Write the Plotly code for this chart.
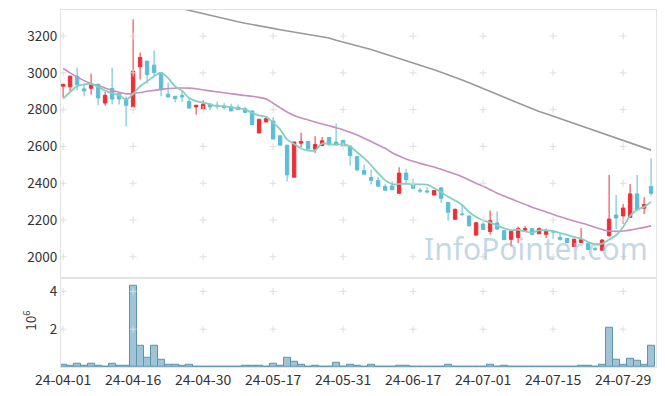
import pandas as pd
import plotly.graph_objects as go
from plotly.subplots import make_subplots

# ---- data ----
holidays = ["2024-04-10", "2024-05-01", "2024-05-06", "2024-05-15", "2024-06-06"]
dates = [d for d in pd.bdate_range("2024-04-01", "2024-08-02") if d.strftime("%Y-%m-%d") not in holidays]
labels = [d.strftime("%y-%m-%d") for d in dates]

opens = [2928, 2924, 2982, 2913, 2916, 2938, 2836, 2915, 2887, 2860,
         2815, 3033, 3064, 3042, 3002, 2884, 2873, 2878, 2845, 2815,
         2804, 2829, 2824, 2820, 2815, 2813, 2805, 2793, 2673, 2733,
         2738, 2658, 2607, 2433, 2618, 2627, 2585, 2605, 2649, 2624,
         2633, 2602, 2545, 2469, 2431, 2415, 2382, 2385, 2345, 2455,
         2400, 2362, 2358, 2336, 2375, 2295, 2204, 2233, 2222, 2118,
         2178, 2138, 2184, 2142, 2095, 2105, 2145, 2153, 2125, 2122,
         2138, 2105, 2100, 2056, 2078, 2073, 2044, 2036, 2115, 2227,
         2222, 2214, 2342, 2264, 2382]
closes = [2938, 2982, 2935, 2902, 2938, 2864, 2878, 2858, 2858, 2824,
          3009, 3084, 2991, 3002, 2911, 2869, 2860, 2869, 2809, 2824,
          2829, 2815, 2818, 2811, 2793, 2800, 2785, 2720, 2747, 2751,
          2640, 2607, 2446, 2624, 2627, 2586, 2611, 2631, 2609, 2609,
          2600, 2551, 2473, 2449, 2416, 2384, 2362, 2365, 2455, 2420,
          2373, 2358, 2353, 2360, 2318, 2242, 2258, 2229, 2169, 2185,
          2149, 2196, 2151, 2093, 2138, 2153, 2153, 2122, 2153, 2138,
          2135, 2095, 2078, 2095, 2093, 2040, 2040, 2091, 2205, 2211,
          2265, 2342, 2256, 2284, 2345]
highs = [2940, 2985, 3029, 2938, 2996, 2942, 2896, 3029, 2891, 2873,
         3291, 3111, 3064, 3122, 3002, 2947, 2873, 2900, 2869, 2824,
         2851, 2836, 2844, 2836, 2833, 2827, 2815, 2796, 2751, 2764,
         2760, 2658, 2607, 2627, 2675, 2629, 2656, 2651, 2649, 2724,
         2636, 2605, 2549, 2502, 2473, 2433, 2395, 2411, 2487, 2478,
         2424, 2375, 2378, 2364, 2378, 2298, 2262, 2282, 2225, 2189,
         2187, 2251, 2247, 2145, 2142, 2164, 2167, 2156, 2160, 2153,
         2142, 2124, 2102, 2100, 2156, 2078, 2055, 2096, 2445, 2336,
         2287, 2396, 2445, 2324, 2536]
lows = [2866, 2900, 2905, 2873, 2882, 2824, 2822, 2829, 2827, 2709,
        2815, 2964, 2942, 2982, 2873, 2869, 2840, 2842, 2804, 2773,
        2804, 2796, 2802, 2800, 2793, 2800, 2782, 2716, 2673, 2733,
        2640, 2604, 2409, 2433, 2596, 2585, 2565, 2600, 2605, 2605,
        2598, 2496, 2464, 2449, 2393, 2382, 2360, 2362, 2345, 2393,
        2371, 2347, 2345, 2336, 2293, 2196, 2204, 2225, 2164, 2115,
        2145, 2120, 2147, 2091, 2055, 2075, 2142, 2116, 2125, 2102,
        2098, 2087, 2076, 2056, 2075, 2038, 2033, 2033, 2109, 2151,
        2178, 2214, 2251, 2233, 2333]
pre_closes = [2802, 2780, 2847, 2933]  # closes before 24-04-01 (for MA5)

ma20 = [3024, 3000, 2978, 2958, 2942, 2930, 2918, 2905, 2895, 2886,
        2888, 2893, 2900, 2905, 2910, 2915, 2917, 2918, 2917, 2914,
        2908, 2902, 2897, 2892, 2887, 2882, 2877, 2873, 2867, 2858,
        2835, 2810, 2787, 2768, 2755, 2744, 2733, 2722, 2712, 2702,
        2691, 2677, 2662, 2645, 2627, 2608, 2590, 2566, 2548, 2532,
        2520, 2508, 2498, 2488, 2476, 2463, 2450, 2435, 2418, 2400,
        2383, 2365, 2346, 2330, 2315, 2300, 2285, 2270, 2257, 2244,
        2230, 2218, 2206, 2195, 2184, 2173, 2160, 2148, 2140, 2138,
        2140, 2145, 2152, 2160, 2168]
ma120 = [3500, 3491, 3482, 3473, 3464, 3455, 3446, 3437, 3428, 3419,
         3410, 3401, 3392, 3383, 3374, 3365, 3356, 3347, 3338, 3329,
         3320, 3311, 3302, 3294, 3286, 3278, 3270, 3262, 3255, 3248,
         3242, 3235, 3229, 3223, 3217, 3211, 3205, 3199, 3190, 3178,
         3168, 3158, 3150, 3138, 3127, 3115, 3103, 3092, 3080, 3068,
         3055, 3043, 3030, 3017, 3003, 2990, 2976, 2961, 2946, 2930,
         2914, 2898, 2882, 2866, 2850, 2834, 2818, 2802, 2790, 2778,
         2765, 2751, 2737, 2723, 2710, 2697, 2684, 2671, 2658, 2645,
         2632, 2619, 2606, 2593, 2580]
volume_mil = [0.14, 0.09, 0.19, 0.04, 0.19, 0.09, 0.02, 0.19, 0.04, 0.09,
              4.30, 1.15, 0.48, 1.10, 0.37, 0.14, 0.14, 0.09, 0.14, 0.02,
              0.02, 0.02, 0.02, 0.02, 0.02, 0.02, 0.07, 0.07, 0.07, 0.02,
              0.19, 0.09, 0.51, 0.30, 0.14, 0.02, 0.07, 0.02, 0.02, 0.25,
              0.02, 0.14, 0.09, 0.02, 0.14, 0.02, 0.02, 0.02, 0.09, 0.09,
              0.02, 0.02, 0.02, 0.02, 0.02, 0.14, 0.02, 0.02, 0.02, 0.02,
              0.02, 0.14, 0.02, 0.09, 0.02, 0.02, 0.02, 0.005, 0.005, 0.02,
              0.02, 0.02, 0.005, 0.02, 0.09, 0.09, 0.005, 0.14, 2.05, 0.37,
              0.11, 0.42, 0.32, 0.14, 1.12]

price_ticks = [2000, 2200, 2400, 2600, 2800, 3000, 3200]
vol_ticks = [2, 4]

# ---- derived ----
ma5 = pd.Series(pre_closes + closes).rolling(5).mean().tolist()[len(pre_closes):]
xtick_vals = labels[::10]

FONT = "Noto Sans CJK KR"
UP = "#ec2f37"
DOWN = "#5cbdd6"

fig = make_subplots(rows=2, cols=1, shared_xaxes=True, vertical_spacing=0,
                    row_heights=[0.75, 0.25])

fig.add_trace(go.Scatter(x=labels, y=ma120, mode="lines",
                         line=dict(color="#9a9a9a", width=1.6), showlegend=False), row=1, col=1)
fig.add_trace(go.Scatter(x=labels, y=ma20, mode="lines",
                         line=dict(color="#c98cc4", width=1.6, shape="spline"), showlegend=False), row=1, col=1)
fig.add_trace(go.Scatter(x=labels, y=ma5, mode="lines",
                         line=dict(color="#86cfbf", width=1.8, shape="spline"), showlegend=False), row=1, col=1)

fig.add_trace(go.Candlestick(x=labels, open=opens, high=highs, low=lows, close=closes,
                             increasing=dict(line=dict(color=UP, width=1), fillcolor=UP),
                             decreasing=dict(line=dict(color=DOWN, width=1), fillcolor=DOWN),
                             whiskerwidth=0, showlegend=False), row=1, col=1)

fig.add_trace(go.Bar(x=labels, y=volume_mil, width=1.0,
                     marker=dict(color="rgba(150,190,208,0.9)",
                                 line=dict(color="#5c93ad", width=1)),
                     showlegend=False), row=2, col=1)

# grid crosses at tick intersections
gx, gy = [], []
for xv in xtick_vals:
    for yv in price_ticks:
        gx.append(xv); gy.append(yv)
fig.add_trace(go.Scatter(x=gx, y=gy, mode="markers", hoverinfo="skip",
                         marker=dict(symbol="cross-thin", size=5,
                                     line=dict(color="#dddddd", width=1)),
                         showlegend=False), row=1, col=1)
gx2, gy2 = [], []
for xv in xtick_vals:
    for yv in vol_ticks:
        gx2.append(xv); gy2.append(yv)
fig.add_trace(go.Scatter(x=gx2, y=gy2, mode="markers", hoverinfo="skip",
                         marker=dict(symbol="cross-thin", size=5,
                                     line=dict(color="#dddddd", width=1)),
                         showlegend=False), row=2, col=1)

axis_common = dict(showline=True, linecolor="#e3e3e3", linewidth=1, mirror=True,
                   showgrid=False, zeroline=False, ticks="", automargin=False)

fig.update_xaxes(type="category", categoryorder="array", categoryarray=labels,
                 range=[-0.3, 84.7], rangeslider_visible=False,
                 tickmode="array", tickvals=xtick_vals, ticktext=xtick_vals,
                 tickangle=0, tickfont=dict(family=FONT, size=14, color="#333333"),
                 **axis_common)
fig.update_xaxes(showticklabels=False, row=1, col=1)
fig.update_yaxes(range=[1886, 3342], tickmode="array", tickvals=price_ticks,
                 tickfont=dict(family=FONT, size=13.5, color="#333333"),
                 row=1, col=1, **axis_common)
fig.update_yaxes(range=[0, 4.72], tickmode="array", tickvals=vol_ticks,
                 tickfont=dict(family=FONT, size=13.5, color="#333333"),
                 row=2, col=1, **axis_common)

# volume axis exponent label
fig.add_annotation(text="10<sup>6</sup>", xref="paper", yref="paper",
                   x=-0.052, y=0.13, xanchor="center", yanchor="middle", showarrow=False,
                   textangle=-90, font=dict(family=FONT, size=13.5, color="#333333"))

fig.add_annotation(text="InfoPointer.com", xref="paper", yref="paper",
                   x=0.99, y=0.27, xanchor="right", yanchor="bottom", showarrow=False,
                   font=dict(family="Noto Sans", size=30, color="rgba(155,190,208,0.6)"))

# the page adds an 8px body margin, so the plot margins are reduced accordingly
fig.update_layout(width=665, height=396, margin=dict(l=53, r=17, t=2, b=37),
                  paper_bgcolor="white", plot_bgcolor="white", bargap=0,
                  hovermode=False)

fig.write_html("out.html")
